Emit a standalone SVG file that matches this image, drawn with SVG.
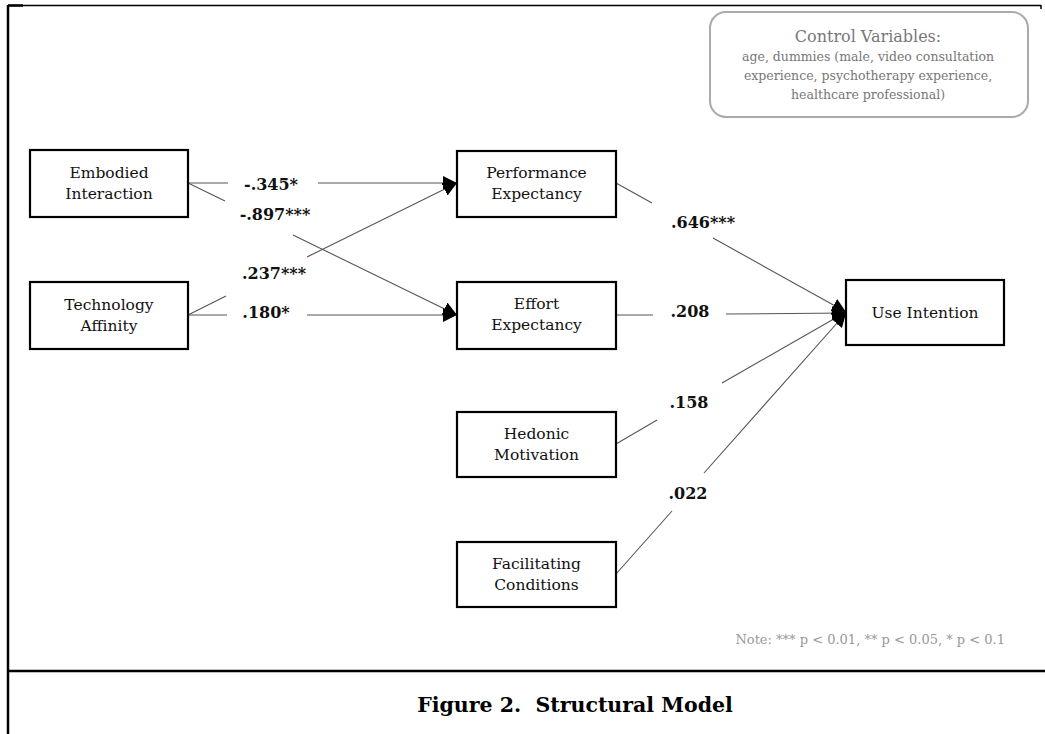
<svg xmlns="http://www.w3.org/2000/svg" width="1045" height="734" viewBox="0 0 1045 734">
<style>
.frame{stroke:#000;fill:none}
.box{fill:#fff;stroke:#000;stroke-width:2.2}
.nt{font-family:"DejaVu Serif","Liberation Serif",serif;font-size:15.5px;fill:#111;text-anchor:middle}
.lb{font-family:"DejaVu Serif","Liberation Serif",serif;font-size:16px;font-weight:bold;fill:#111;text-anchor:middle}
.cn{fill:none;stroke:#555;stroke-width:1.1;marker-end:url(#ah)}
.cv{font-family:"DejaVu Serif","Liberation Serif",serif;fill:#777;text-anchor:middle}
</style>
<defs>
<marker id="ah" viewBox="0 0 10 10" refX="10" refY="5" markerUnits="userSpaceOnUse" markerWidth="14" markerHeight="14" orient="auto">
<path d="M0,0 L10,5 L0,10 z" fill="#000"/>
</marker>
</defs>
<rect width="1045" height="734" fill="#fff"/>
<g id="frame">
<line class="frame" x1="8" y1="5" x2="8" y2="734" stroke-width="2.5"/>
<line class="frame" x1="8" y1="5.5" x2="1041" y2="5.5" stroke-width="1.5"/>
<line class="frame" x1="8" y1="5.5" x2="23" y2="5.5" stroke-width="2.5"/>
<line class="frame" x1="1041" y1="5" x2="1041" y2="9" stroke-width="1.5"/>
<line class="frame" x1="8" y1="671" x2="1045" y2="671" stroke-width="2.5"/>
</g>
<g id="connectors">
<path class="cn" d="M188,183 L228,183 M318,183 L457,183"/>
<path class="cn" d="M188,183 L225,201 M293,235 L457,315"/>
<path class="cn" d="M188,315 L226,296 M307,257 L457,183"/>
<path class="cn" d="M188,315 L227,315 M307,315 L457,315"/>
<path class="cn" d="M616,183 L652,203 M713,238 L846,312"/>
<path class="cn" d="M616,315 L653,315 M726,314 L846,313"/>
<path class="cn" d="M616,444 L657,420 M722,383 L846,312"/>
<path class="cn" d="M616,574 L672,511 M704,473 L846,313"/>
</g>
<g id="labels">
<text class="lb" x="271" y="190">-.345*</text>
<text class="lb" x="275" y="220">-.897***</text>
<text class="lb" x="274" y="279">.237***</text>
<text class="lb" x="266" y="318">.180*</text>
<text class="lb" x="703" y="228">.646***</text>
<text class="lb" x="690" y="317">.208</text>
<text class="lb" x="689" y="408">.158</text>
<text class="lb" x="688" y="499">.022</text>
</g>
<g id="embodied-interaction">
<rect class="box" x="30" y="150" width="158" height="67"/>
<text class="nt" x="109" y="178">Embodied</text>
<text class="nt" x="109" y="199">Interaction</text>
</g>
<g id="technology-affinity">
<rect class="box" x="30" y="282" width="158" height="67"/>
<text class="nt" x="109" y="310">Technology</text>
<text class="nt" x="109" y="331">Affinity</text>
</g>
<g id="performance-expectancy">
<rect class="box" x="457" y="151" width="159" height="66"/>
<text class="nt" x="536.5" y="178">Performance</text>
<text class="nt" x="536.5" y="199">Expectancy</text>
</g>
<g id="effort-expectancy">
<rect class="box" x="457" y="282" width="159" height="67"/>
<text class="nt" x="536.5" y="309">Effort</text>
<text class="nt" x="536.5" y="330">Expectancy</text>
</g>
<g id="hedonic-motivation">
<rect class="box" x="457" y="412" width="159" height="65"/>
<text class="nt" x="536.5" y="439">Hedonic</text>
<text class="nt" x="536.5" y="460">Motivation</text>
</g>
<g id="facilitating-conditions">
<rect class="box" x="457" y="542" width="159" height="65"/>
<text class="nt" x="536.5" y="569">Facilitating</text>
<text class="nt" x="536.5" y="590">Conditions</text>
</g>
<g id="use-intention">
<rect class="box" x="846" y="280" width="158" height="65"/>
<text class="nt" x="925" y="318">Use Intention</text>
</g>
<g id="control-variables">
<rect x="710" y="12" width="318" height="105" rx="16" fill="#fff" stroke="#aaa" stroke-width="2"/>
<text class="cv" x="868" y="42" font-size="16">Control Variables:</text>
<text class="cv" x="868" y="61" font-size="12.5">age, dummies (male, video consultation</text>
<text class="cv" x="868" y="80" font-size="12.5">experience, psychotherapy experience,</text>
<text class="cv" x="868" y="99" font-size="12.5">healthcare professional)</text>
</g>
<g id="note">
<text x="1005" y="644" font-family="DejaVu Serif, Liberation Serif, serif" font-size="13" fill="#999" text-anchor="end">Note: *** p &lt; 0.01, ** p &lt; 0.05, * p &lt; 0.1</text>
</g>
<g id="caption">
<text x="575" y="712" font-family="DejaVu Serif, Liberation Serif, serif" font-size="20.5" font-weight="bold" fill="#000" text-anchor="middle" xml:space="preserve">Figure 2.  Structural Model</text>
</g>
</svg>
